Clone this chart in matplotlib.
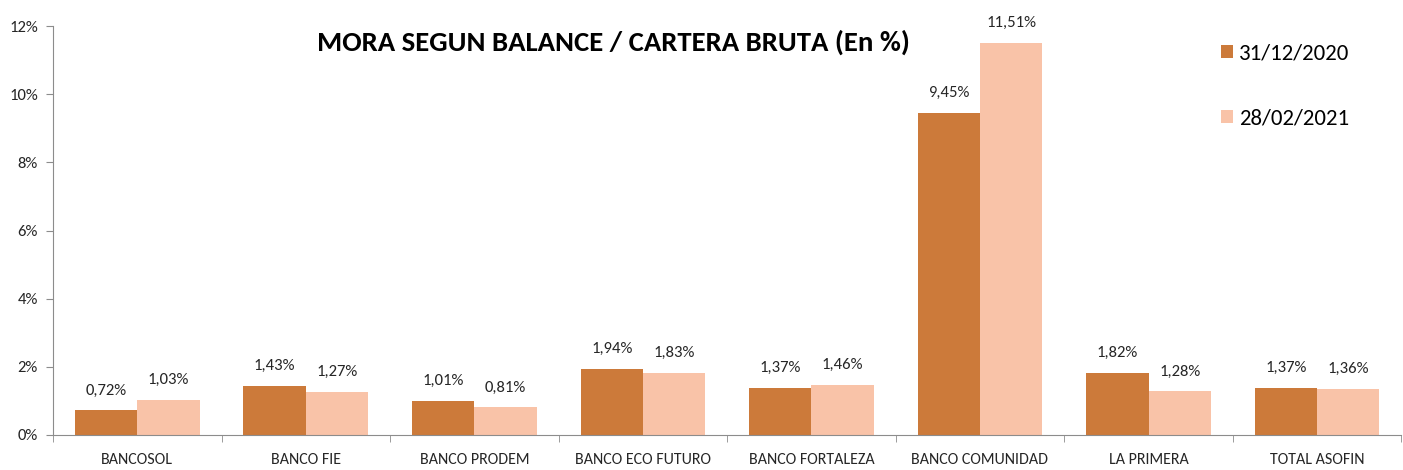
import matplotlib.pyplot as plt
import numpy as np

plt.rcParams['font.family'] = ['Carlito', 'DejaVu Sans']

# Chart data
categories = ["BANCOSOL", "BANCO FIE", "BANCO PRODEM", "BANCO ECO FUTURO",
              "BANCO FORTALEZA", "BANCO COMUNIDAD", "LA PRIMERA", "TOTAL ASOFIN"]
mora_2020 = [0.72, 1.43, 1.01, 1.94, 1.37, 9.45, 1.82, 1.37]
mora_2021 = [1.03, 1.27, 0.81, 1.83, 1.46, 11.51, 1.28, 1.36]
series_labels = ["31/12/2020", "28/02/2021"]
y_ticks = [0, 2, 4, 6, 8, 10, 12]

dark = "#CC7A3A"
light = "#F9C3A8"
grey = "#8C8C8C"
txt = "#262626"

fig = plt.figure(figsize=(14.03, 4.70), dpi=100)
ax = fig.add_axes([0.0378, 0.0745, 0.961, 0.870])

x = np.arange(len(categories))
w = 0.37
ax.bar(x - w / 2, mora_2020, w, color=dark, label=series_labels[0])
ax.bar(x + w / 2, mora_2021, w, color=light, label=series_labels[1])

# Value labels above bars
for xi, v in zip(x, mora_2020):
    ax.text(xi - w / 2, v + 0.38, f"{v:.2f}%".replace(".", ","),
            ha="center", va="bottom", fontsize=12, color=txt)
for xi, v in zip(x, mora_2021):
    ax.text(xi + w / 2, v + 0.38, f"{v:.2f}%".replace(".", ","),
            ha="center", va="bottom", fontsize=12, color=txt)

ax.set_xlim(-0.5, len(categories) - 0.5)
ax.set_ylim(0, 12)
ax.set_yticks(y_ticks)
ax.set_yticklabels([f"{t}%" for t in y_ticks], fontsize=12, color=txt)

# Category labels centred, tick marks between groups
ax.set_xticks(x)
ax.set_xticklabels(categories, fontsize=11.5, color=txt)
ax.tick_params(axis="x", length=0, pad=13)
ax.set_xticks(np.arange(len(categories) + 1) - 0.5, minor=True)
ax.tick_params(axis="x", which="minor", length=5, color=grey)
ax.tick_params(axis="y", length=5, color=grey, pad=6)

for s in ["top", "right"]:
    ax.spines[s].set_visible(False)
ax.spines["left"].set_color(grey)
ax.spines["bottom"].set_color(grey)

fig.text(0.437, 0.911, "MORA SEGUN BALANCE / CARTERA BRUTA (En %)",
         ha="center", va="center", fontsize=20.7, fontweight="bold")

fig.legend(*ax.get_legend_handles_labels(), loc="upper left",
           bbox_to_anchor=(0.870, 0.907), frameon=False, fontsize=16.5,
           handlelength=0.52, handleheight=0.52, handletextpad=0.3,
           labelspacing=1.95, borderpad=0, borderaxespad=0)

fig.savefig("out.png", dpi=100)
